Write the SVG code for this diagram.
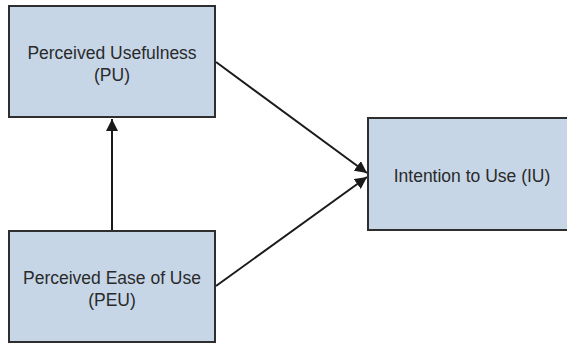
<svg xmlns="http://www.w3.org/2000/svg" width="567" height="344" viewBox="0 0 567 344">
  <style>
    .box { fill: #c6d6e7; stroke: #2e2e2e; stroke-width: 2; }
    .label { font-family: "Liberation Sans", Arial, sans-serif; font-size: 17.5px; fill: #2a2a2a; text-anchor: middle; }
    .edge { stroke: #1a1a1a; stroke-width: 2; fill: none; marker-end: url(#arrow); }
  </style>
  <defs>
    <marker id="arrow" viewBox="0 0 10 10" refX="10" refY="5" markerWidth="6" markerHeight="6" orient="auto" markerUnits="strokeWidth">
      <path d="M0,0 L10,5 L0,10 z" fill="#1a1a1a"/>
    </marker>
  </defs>
  <rect width="567" height="344" fill="#ffffff"/>

  <g id="connectors">
    <line class="edge" x1="112" y1="231" x2="112" y2="119"/>
    <line class="edge" x1="216" y1="62" x2="367" y2="173"/>
    <line class="edge" x1="216" y1="286" x2="367" y2="177"/>
  </g>

  <g id="pu">
    <rect class="box" x="9" y="6" width="206" height="111"/>
    <text class="label" x="112" y="59">Perceived Usefulness</text>
    <text class="label" x="112" y="81">(PU)</text>
  </g>

  <g id="peu">
    <rect class="box" x="9" y="231" width="206" height="111"/>
    <text class="label" x="112" y="284">Perceived Ease of Use</text>
    <text class="label" x="112" y="306">(PEU)</text>
  </g>

  <g id="iu">
    <rect class="box" x="368" y="118" width="210" height="112"/>
    <text class="label" x="472" y="182">Intention to Use (IU)</text>
  </g>
</svg>
